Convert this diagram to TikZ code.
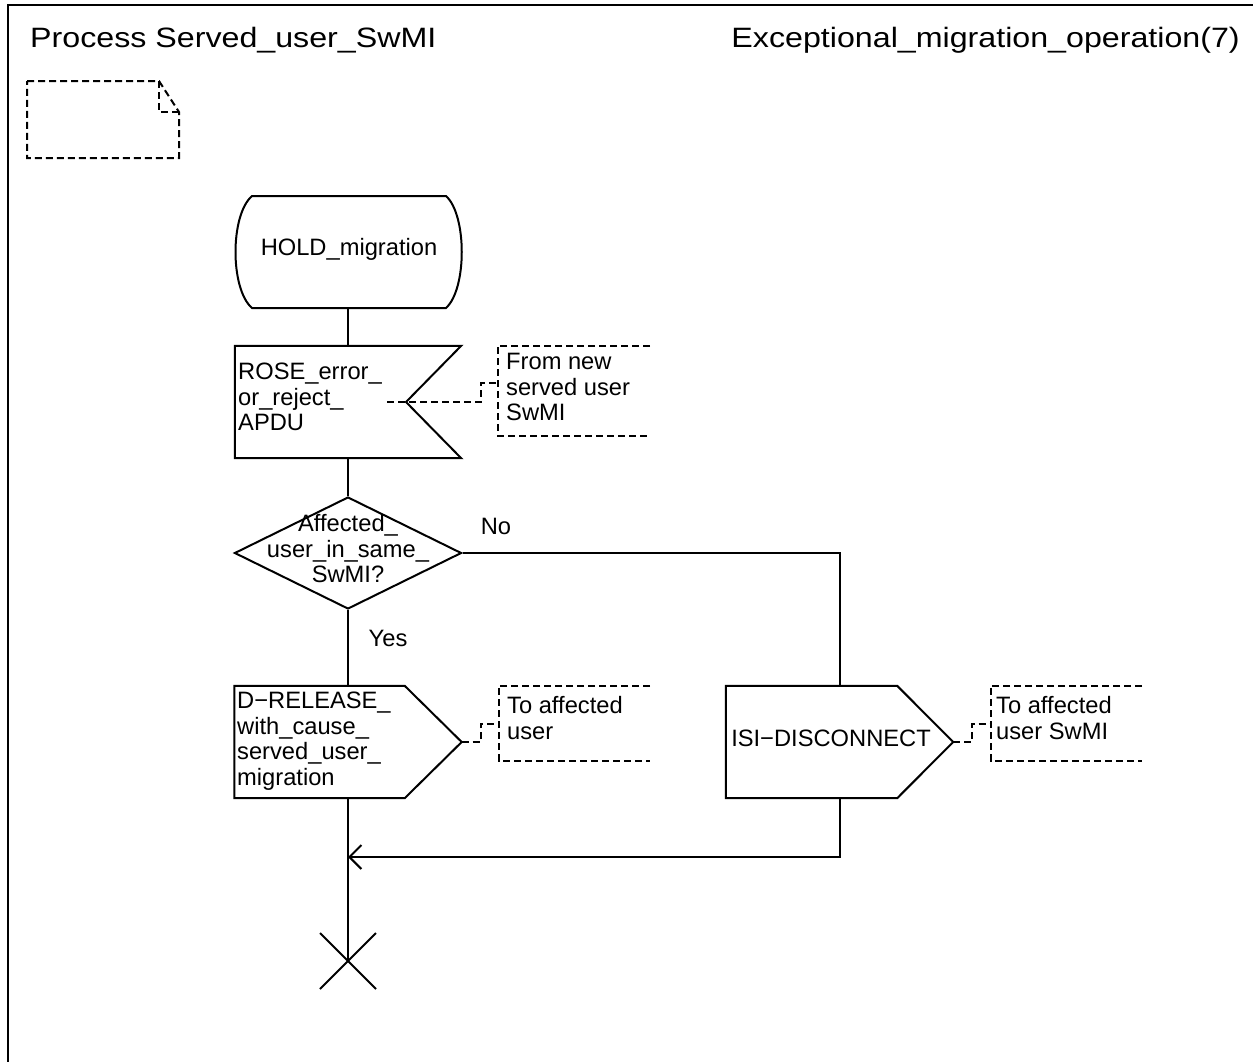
\documentclass[tikz,border=0pt]{standalone}
\usepackage{fontspec}
\setmainfont{Liberation Sans}
\newfontfamily\titlefont[FakeStretch=1.15]{Liberation Sans}
\usetikzlibrary{shapes.geometric,shapes.misc,arrows.meta,calc}
\begin{document}
\begin{tikzpicture}[x=1pt,y=-1pt,
  sdl/.style={line width=2pt},
  cmt/.style={line width=2pt, dash pattern=on 7pt off 4pt},
  txt/.style={font=\fontsize{23.7pt}{25.5pt}\selectfont, inner sep=0pt, align=left},
  ttl/.style={font=\titlefont\fontsize{28pt}{30pt}\selectfont, inner sep=0pt},
  area/.style={draw=none, inner sep=0pt, minimum width=#1},
  sdlarrow/.style={-{Straight Barb[length=12pt,width=24pt]}}]
\useasboundingbox (0,0) rectangle (1253,1061);
% frame
\draw[sdl] (8,1075) -- (8,5) -- (1265,5);
\node[ttl, anchor=base west] (title) at (30,47) {Process Served\_user\_SwMI};
\node[ttl, anchor=base east] (page) at (1240,47) {Exceptional\_migration\_operation(7)};
% text symbol (note)
\draw[cmt] (27,81) -- (159,81) -- (179,112) -- (179,158) -- (27,158) -- cycle;
\draw[cmt] (159,81) -- (159,112) -- (179,112);
% state
\node[area=228pt, minimum height=112pt] (hold) at (348,252) {};
\draw[sdl] (252,196) -- (446,196) .. controls (467,215) and (467,289) .. (446,308)
  -- (252,308) .. controls (230,289) and (230,215) .. (252,196) -- cycle;
\node[txt] (holdt) at (349,249) {HOLD\_migration};
% input
\node[area=226pt, minimum height=112pt] (in1) at (348,402) {};
\coordinate (in1n) at (406,402);
\draw[sdl] (in1.north west) -- (in1.north east) -- (in1n) -- (in1.south east) -- (in1.south west) -- cycle;
\node[txt, anchor=west] (in1t) at (238,397) {ROSE\_error\_\\or\_reject\_\\APDU};
% decision
\node[diamond, draw, sdl, minimum width=227pt, minimum height=112pt, inner sep=0pt] (dec) at (348,553) {};
\node[txt, align=center] (dect) at (348,549) {Affected\_\\user\_in\_same\_\\SwMI?};
\node[txt] (no) at (496,526) {No};
\node[txt] (yes) at (388,638) {Yes};
% output 1
\node[area=227pt, minimum height=112pt] (out1) at (348,742) {};
\draw[sdl] (out1.north west) -- ([xshift=-57pt]out1.north east) -- (out1.east)
  -- ([xshift=-57pt]out1.south east) -- (out1.south west) -- cycle;
\node[txt, anchor=west] (out1t) at (237,741) {D−RELEASE\_\\with\_cause\_\\served\_user\_\\migration};
% output 2
\node[area=227pt, minimum height=112pt] (out2) at (839.5,742) {};
\draw[sdl] (out2.north west) -- ([xshift=-56pt]out2.north east) -- (out2.east)
  -- ([xshift=-56pt]out2.south east) -- (out2.south west) -- cycle;
\node[txt] (out2t) at (831,738) {ISI−DISCONNECT};
% comments
\node[area=152pt, minimum height=90pt] (c1) at (574,391) {};
\draw[cmt] (c1.north east) -- (c1.north west) -- (c1.south west) -- (c1.south east);
\node[txt, anchor=west] (c1t) at (506,387) {From new\\served user\\SwMI};
\node[area=151pt, minimum height=75pt] (c2) at (574.5,723.5) {};
\draw[cmt] (c2.north east) -- (c2.north west) -- (c2.south west) -- (c2.south east);
\node[txt, anchor=west] (c2t) at (507,718) {To affected\\user};
\node[area=151pt, minimum height=75pt] (c3) at (1066.5,723.5) {};
\draw[cmt] (c3.north east) -- (c3.north west) -- (c3.south west) -- (c3.south east);
\node[txt, anchor=west] (c3t) at (996,718) {To affected\\user SwMI};
% stop
\node[cross out, draw, sdl, minimum size=54pt, inner sep=0pt] (stop) at (348,961) {};
\coordinate (join) at (348,857);
% connectors
\draw[sdl] (hold.south) -- (in1.north);
\draw[sdl] (in1.south) -- (dec.north);
\draw[sdl] (dec.south) -- (out1.north);
\draw[sdl] (out1.south) -- (stop.center);
\draw[sdl] (dec.east) -| (out2.north);
\draw[sdl, sdlarrow] (out2.south) |- (join);
\draw[cmt] ($(in1n)+(-19,0)$) -| ($(c1.west)+(-17,-8)$) -- ($(c1.west)+(0,-8)$);
\draw[cmt] (out1.east) -| ($(c2.west)+(-18,0)$) -- (c2.west);
\draw[cmt] (out2.east) -| ($(c3.west)+(-19,0)$) -- (c3.west);
\end{tikzpicture}
\end{document}
